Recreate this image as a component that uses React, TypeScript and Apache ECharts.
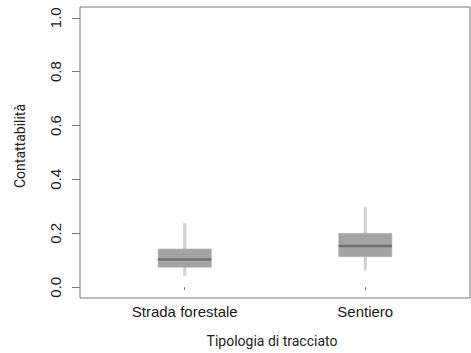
import React, { useEffect, useRef } from "react";
import * as echarts from "echarts";

const categories = ["Strada forestale", "Sentiero"];
const positions = [1, 2];
const whiskerLow = [0.042, 0.063];
const quartile1 = [0.074, 0.113];
const medians = [0.103, 0.153];
const quartile3 = [0.142, 0.2];
const whiskerHigh = [0.238, 0.297];
const yTicks = [0, 0.2, 0.4, 0.6, 0.8, 1.0];

export default function App() {
  const ref = useRef<HTMLDivElement>(null);
  useEffect(() => {
    if (!ref.current) return;
    const chart = echarts.init(ref.current, null, { renderer: "svg" });
    const data = positions.map((p, i) => [
      p,
      whiskerLow[i],
      quartile1[i],
      medians[i],
      quartile3[i],
      whiskerHigh[i],
    ]);
    chart.setOption({
      animation: false,
      grid: {
        left: 80,
        right: 1,
        top: 7,
        bottom: 55,
        show: true,
        borderColor: "#777",
        borderWidth: 1,
        backgroundColor: "transparent",
        containLabel: false,
        outerBoundsMode: "none",
      },
      xAxis: {
        type: "value",
        min: 0.42,
        max: 2.58,
        splitLine: { show: false },
        axisLine: { show: false },
        axisTick: {
          show: true,
          customValues: positions,
          length: 3,
          lineStyle: { color: "#777" },
        },
        axisLabel: {
          customValues: positions,
          margin: 6,
          fontFamily: "Liberation Sans",
          fontSize: 15,
          color: "#1a1a1a",
          formatter: (v: number) => categories[positions.indexOf(Math.round(v))] ?? "",
        },
      },
      yAxis: {
        type: "value",
        min: -0.04,
        max: 1.04,
        splitLine: { show: false },
        axisLine: { show: false },
        axisTick: {
          show: true,
          customValues: yTicks,
          length: 8,
          lineStyle: { color: "#777" },
        },
        axisLabel: {
          customValues: yTicks,
          rotate: 90,
          margin: 17,
          fontFamily: "Liberation Sans",
          fontSize: 15,
          color: "#1a1a1a",
          formatter: (v: number) => v.toFixed(1),
        },
      },
      graphic: [
        {
          type: "text",
          x: 20,
          y: 146,
          rotation: Math.PI / 2,
          style: {
            text: "Contattabilità",
            fontFamily: "Roboto",
            fontSize: 14,
            fill: "#222",
            align: "center",
            verticalAlign: "middle",
          },
        },
        {
          type: "text",
          x: 272,
          y: 341,
          style: {
            text: "Tipologia di tracciato",
            fontFamily: "Roboto",
            fontSize: 14,
            fill: "#222",
            align: "center",
            verticalAlign: "middle",
          },
        },
      ],
      series: [
        {
          type: "custom",
          data,
          encode: { x: 0, y: [1, 2, 3, 4, 5] },
          renderItem: (params: any, api: any) => {
            const x = api.value(0);
            const pLow = api.coord([x, api.value(1)]);
            const pQ1 = api.coord([x, api.value(2)]);
            const pMed = api.coord([x, api.value(3)]);
            const pQ3 = api.coord([x, api.value(4)]);
            const pHigh = api.coord([x, api.value(5)]);
            const boxW = api.size([0.295, 0])[0];
            const cx = pMed[0];
            return {
              type: "group",
              children: [
                {
                  type: "rect",
                  shape: { x: cx - 1.6, y: pHigh[1], width: 3.2, height: pLow[1] - pHigh[1] },
                  style: { fill: "#d2d2d2" },
                },
                {
                  type: "rect",
                  shape: { x: cx - boxW / 2, y: pQ3[1], width: boxW, height: pQ1[1] - pQ3[1] },
                  style: { fill: "#a3a3a3", stroke: "#b5b5b5", lineWidth: 0.6 },
                },
                {
                  type: "rect",
                  shape: { x: cx - boxW / 2, y: pMed[1] - 1.3, width: boxW, height: 2.6 },
                  style: { fill: "#6f6f6f" },
                },
              ],
            };
          },
        },
      ],
    });
    return () => chart.dispose();
  }, []);
  return (
    <div
      ref={ref}
      style={{ position: "absolute", left: 0, top: 0, width: 471, height: 353 }}
    />
  );
}
